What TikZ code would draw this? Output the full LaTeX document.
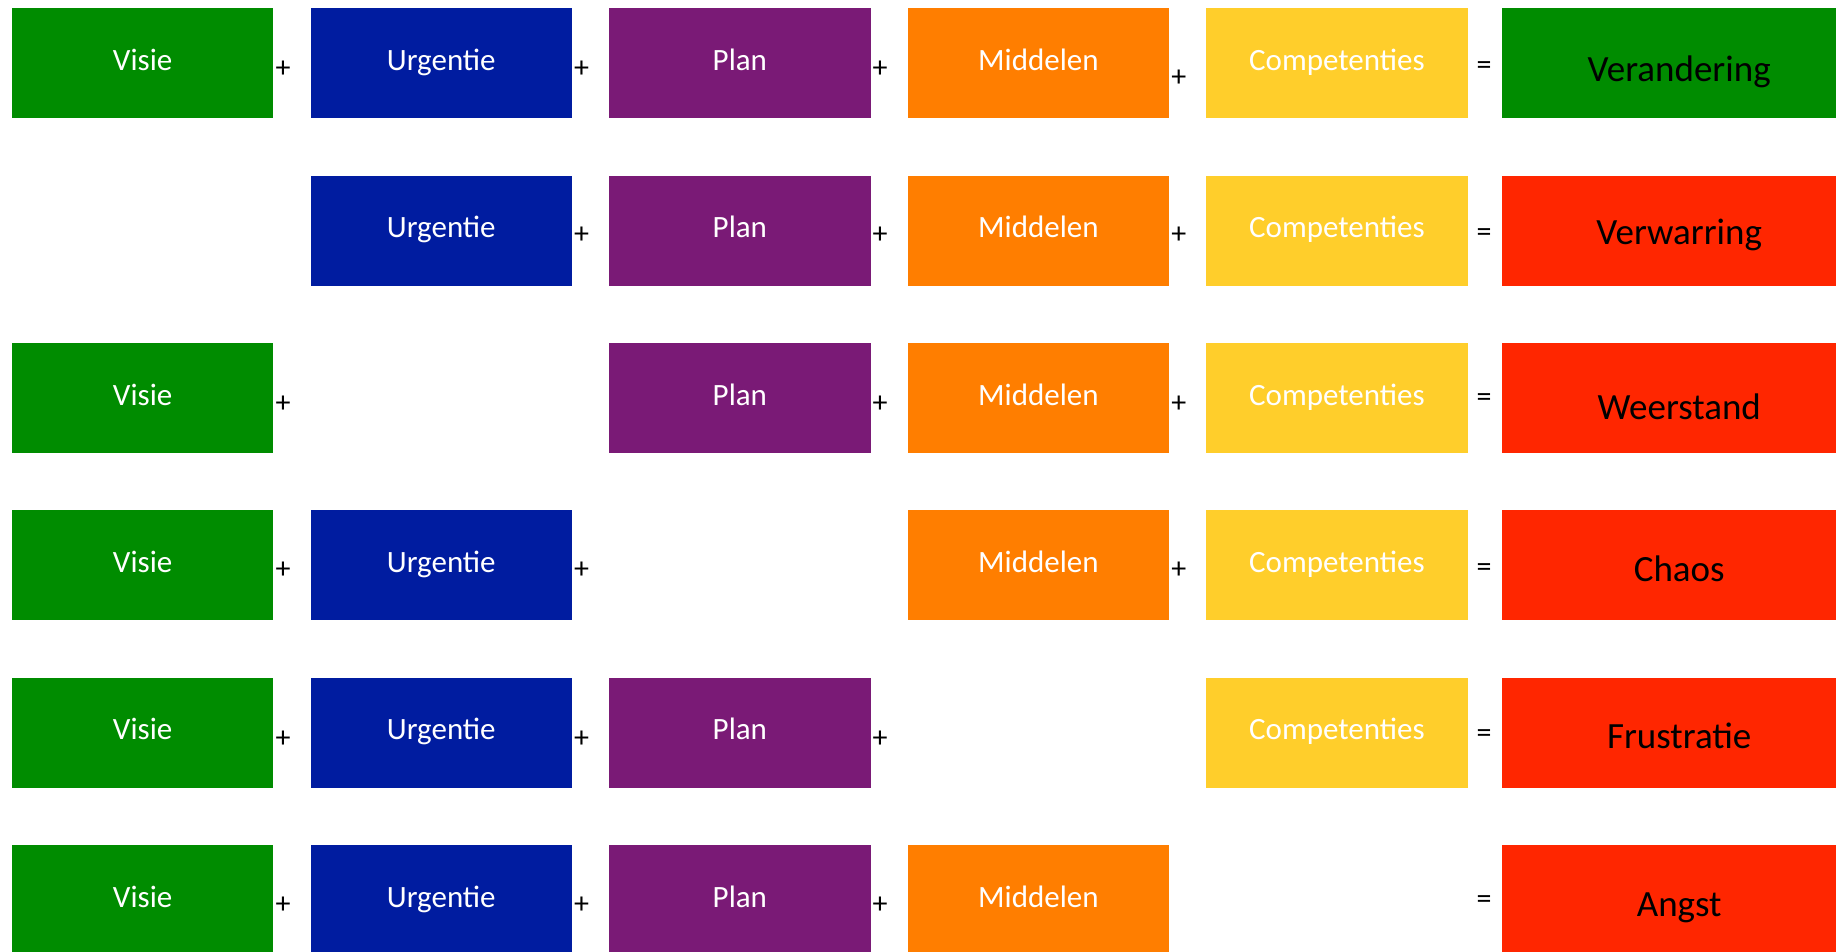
\documentclass[tikz,border=0pt]{standalone}
\usepackage{fontspec}
\setmainfont{Carlito}
\definecolor{visiegreen}{RGB}{0,140,0}
\definecolor{urgentieblue}{RGB}{0,28,160}
\definecolor{planpurple}{RGB}{122,26,118}
\definecolor{middelenorange}{RGB}{255,126,0}
\definecolor{competentiesyellow}{RGB}{255,206,43}
\definecolor{resultred}{RGB}{255,38,0}

\begin{document}
\begin{tikzpicture}[x=1pt,y=-1pt,
	box/.style={rectangle,anchor=north west,inner sep=0pt,minimum width=261.5pt,minimum height=110pt,
		text=white,text height=21pt,text depth=7pt,font=\fontsize{31}{31}\selectfont},
	visie/.style={box,fill=visiegreen},
	urgentie/.style={box,fill=urgentieblue},
	plan/.style={box,fill=planpurple},
	middelen/.style={box,fill=middelenorange},
	competenties/.style={box,fill=competentiesyellow},
	result/.style={box,minimum width=354pt,text=black,text height=38pt,text depth=6.2pt,
		font=\fontsize{37}{37}\selectfont},
	sign/.style={inner sep=0pt,yshift=-2.5pt,font=\fontsize{30}{30}\selectfont}]
\useasboundingbox (0,0) rectangle (1836,952);
\clip (0,0) rectangle (1836,952);

% row 1
\node [visie] (v1) at (11.7,8) {Visie};
\node [urgentie] (u1) at (310.3,8) {Urgentie};
\node [plan] (p1) at (608.9,8) {Plan};
\node [middelen] (m1) at (907.5,8) {Middelen};
\node [competenties] (c1) at (1206,8) {Competenties};
\node [result,fill=visiegreen,text height=42pt] (r1) at (1502,8) {Verandering};
\node [sign] (s11) at (283,67) {+};
\node [sign] (s12) at (581.6,67) {+};
\node [sign] (s13) at (880.2,67) {+};
\node [sign] (s14) at (1178.8,76) {+};
\node [sign] (e1) at (1484,66) {=};

% row 2
\node [urgentie] (u2) at (310.3,175.4) {Urgentie};
\node [plan] (p2) at (608.9,175.4) {Plan};
\node [middelen] (m2) at (907.5,175.4) {Middelen};
\node [competenties] (c2) at (1206,175.4) {Competenties};
\node [result,fill=resultred,text height=34pt] (r2) at (1502,175.4) {Verwarring};
\node [sign] (s22) at (581.6,233) {+};
\node [sign] (s23) at (880.2,233) {+};
\node [sign] (s24) at (1178.8,233) {+};
\node [sign] (e2) at (1484,233) {=};

% row 3
\node [visie] (v3) at (11.7,342.8) {Visie};
\node [plan] (p3) at (608.9,342.8) {Plan};
\node [middelen] (m3) at (907.5,342.8) {Middelen};
\node [competenties] (c3) at (1206,342.8) {Competenties};
\node [result,fill=resultred,text height=50pt] (r3) at (1502,342.8) {Weerstand};
\node [sign] (s31) at (283,401.6) {+};
\node [sign] (s33) at (880.2,401.6) {+};
\node [sign] (s34) at (1178.8,401.6) {+};
\node [sign] (e3) at (1484,398) {=};

% row 4
\node [visie] (v4) at (11.7,510.2) {Visie};
\node [urgentie] (u4) at (310.3,510.2) {Urgentie};
\node [middelen] (m4) at (907.5,510.2) {Middelen};
\node [competenties] (c4) at (1206,510.2) {Competenties};
\node [result,fill=resultred] (r4) at (1502,510.2) {Chaos};
\node [sign] (s41) at (283,568) {+};
\node [sign] (s42) at (581.6,568) {+};
\node [sign] (s44) at (1178.8,568) {+};
\node [sign] (e4) at (1484,568) {=};

% row 5
\node [visie] (v5) at (11.7,677.6) {Visie};
\node [urgentie] (u5) at (310.3,677.6) {Urgentie};
\node [plan] (p5) at (608.9,677.6) {Plan};
\node [competenties] (c5) at (1206,677.6) {Competenties};
\node [result,fill=resultred] (r5) at (1502,677.6) {Frustratie};
\node [sign] (s51) at (283,736.5) {+};
\node [sign] (s52) at (581.6,736.5) {+};
\node [sign] (s53) at (880.2,736.5) {+};
\node [sign] (e5) at (1484,734) {=};

% row 6
\node [visie] (v6) at (11.7,845) {Visie};
\node [urgentie] (u6) at (310.3,845) {Urgentie};
\node [plan] (p6) at (608.9,845) {Plan};
\node [middelen] (m6) at (907.5,845) {Middelen};
\node [result,fill=resultred] (r6) at (1502,845) {Angst};
\node [sign] (s61) at (283,903) {+};
\node [sign] (s62) at (581.6,903) {+};
\node [sign] (s63) at (880.2,903) {+};
\node [sign] (e6) at (1484,900) {=};
\end{tikzpicture}
\end{document}
